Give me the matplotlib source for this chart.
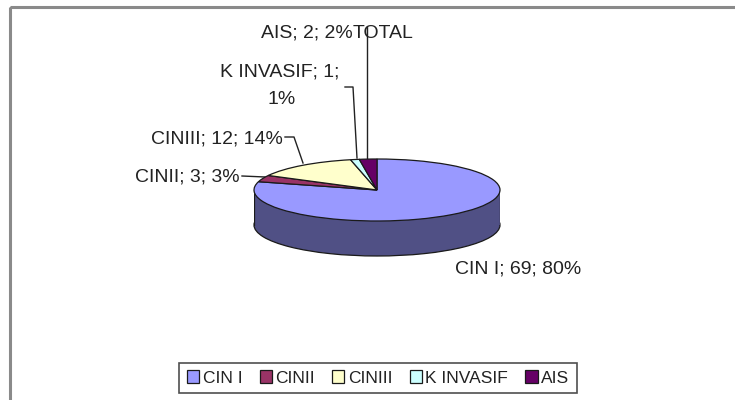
import matplotlib.pyplot as plt
from matplotlib.patches import Rectangle
from matplotlib.colors import to_rgb

plt.rcParams["font.family"] = ["Liberation Sans", "DejaVu Sans"]

# data
categories = ["CIN I", "CINII", "CINIII", "K INVASIF", "AIS"]
counts = [69, 3, 12, 1, 2]
percents = [80, 3, 14, 1, 2]
colors = ["#9999FF", "#993366", "#FFFFCC", "#CCFFFF", "#660066"]

W, H = 735, 400
fig = plt.figure(figsize=(W / 100, H / 100), dpi=100)

# background axes in pixel coordinates (frame, labels, leader lines)
bg = fig.add_axes([0, 0, 1, 1])
bg.set_xlim(0, W)
bg.set_ylim(H, 0)
bg.axis("off")
bg.add_patch(Rectangle((10, 7), 740, 410, fill=False, ec="#8a8a8a", lw=2.2))

# pie geometry (pixels)
cx, cy, rx, ry, depth = 377, 190, 123, 31, 35
top_px, bot_px = 150, 268
ax = fig.add_axes([(cx - rx) / W, (H - bot_px) / H, 2 * rx / W, (bot_px - top_px) / H])
ax.axis("off")
d = depth / ry


def darker(c, f=0.52):
    r, g, b = to_rgb(c)
    return (r * f, g * f, b * f)


side = [darker(c) for c in colors]
kw = dict(startangle=90, counterclock=False, radius=1)
# side of the 3D pie: bottom face, filler, then outline of the bottom rim
ax.pie(counts, colors=side, center=(0, -d), wedgeprops=dict(linewidth=0), **kw)
ax.add_patch(Rectangle((-1, -d), 2, d, fc=side[0], ec="none", zorder=2))
ax.pie([sum(counts)], colors=["none"], center=(0, -d),
       wedgeprops=dict(edgecolor="#1a1a1a", linewidth=0.9, zorder=1), **kw)
ax.plot([-1, -1], [0, -d], color="#1a1a1a", lw=0.9, zorder=3)
ax.plot([1, 1], [0, -d], color="#1a1a1a", lw=0.9, zorder=3)
wedges, _ = ax.pie(counts, colors=colors, center=(0, 0),
                   wedgeprops=dict(edgecolor="#1a1a1a", linewidth=0.9, zorder=4), **kw)
ax.set_aspect("auto")
ax.set_xlim(-1, 1)
ax.set_ylim(-(bot_px - cy) / ry, (cy - top_px) / ry)

labels = [f"{c}; {n}; {p}%" for c, n, p in zip(categories, counts, percents)]
tk = dict(fontsize=14, color="#222222", va="center")
lk = dict(color="#222222", lw=1.0)

# CIN I
bg.text(455, 269, labels[0], ha="left", **tk)
# CINII
bg.text(240, 177, labels[1], ha="right", **tk)
bg.plot([242, 265], [176, 177], **lk)
# CINIII
bg.text(283, 139, labels[2], ha="right", **tk)
bg.plot([285, 294, 303], [137, 137, 163], **lk)
# K INVASIF
bg.text(280, 72, f"{categories[3]}; {counts[3]};", ha="center", **tk)
bg.text(282, 100, f"{percents[3]}%", ha="center", **tk)
bg.plot([345, 353, 357], [87, 87, 158], **lk)
# AIS and TOTAL
bg.text(353, 33, labels[4], ha="right", **tk)
bg.text(353, 33, "TOTAL", ha="left", **tk)
bg.plot([367, 367], [27, 158], **lk)

leg = fig.legend(wedges, categories, loc="center", ncol=5,
                 bbox_to_anchor=(378 / W, 1 - 378 / H), fontsize=12.5,
                 frameon=True, fancybox=False, edgecolor="#222222",
                 handlelength=0.7, handleheight=0.7, handletextpad=0.2,
                 columnspacing=1.0, borderpad=0.45)
leg.get_frame().set_linewidth(1.2)
for t in leg.get_texts():
    t.set_color("#222222")

fig.savefig("out.png", dpi=100)
